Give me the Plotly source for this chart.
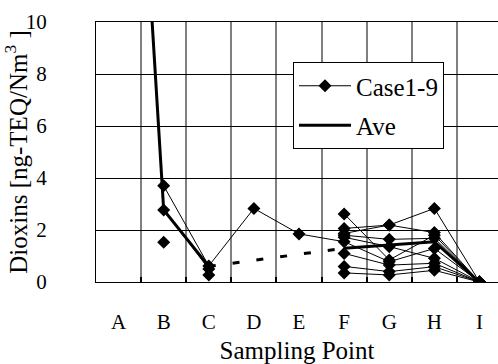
import plotly.graph_objects as go

points = ["A", "B", "C", "D", "E", "F", "G", "H", "I"]

case1 = [None, 3.70, 0.62, 2.83, 1.85, 1.55, 0.78, 1.29, 0.0]
case2 = [None, 2.77, 0.50, None, None, 2.62, 0.85, 1.80, 0.0]
case3 = [None, 1.53, None, None, None, 2.06, 2.19, 2.83, 0.0]
case4 = [None, None, 0.27, None, None, 1.87, 2.19, 1.90, 0.0]
case5 = [None, None, None, None, None, 1.80, 1.64, 1.68, 0.0]
case6 = [None, None, None, None, None, 1.72, 1.36, 0.91, 0.0]
case7 = [None, None, None, None, None, 1.10, 0.65, 0.72, 0.0]
case8 = [None, None, None, None, None, 0.60, 0.40, 0.59, 0.0]
case9 = [None, None, None, None, None, 0.35, 0.27, 0.45, 0.0]
cases = [case1, case2, case3, case4, case5, case6, case7, case8, case9]

ave = [31.0, 2.77, 0.60, None, None, 1.30, 1.42, 1.55, 0.0]

y_ticks = [0, 2, 4, 6, 8, 10]

FONT = "Liberation Serif"
xs = list(range(len(points)))

fig = go.Figure()

for i, c in enumerate(cases):
    fig.add_trace(go.Scatter(
        x=xs, y=c, mode="lines+markers", name="Case1-9",
        legendgroup="case", showlegend=(i == 0),
        line=dict(color="black", width=1),
        marker=dict(symbol="diamond", size=10, color="black"),
        connectgaps=False,
    ))

# dashed bridge over the gap in the average
bridge = [None] * len(ave)
for i in range(len(ave)):
    if ave[i] is not None:
        nxt_missing = i + 1 < len(ave) and ave[i + 1] is None
        prv_missing = i - 1 >= 0 and ave[i - 1] is None
        if nxt_missing or prv_missing:
            bridge[i] = ave[i]
fig.add_trace(go.Scatter(
    x=xs, y=bridge, mode="lines", showlegend=False,
    line=dict(color="black", width=3, dash="7px,17px"),
    connectgaps=True,
))
fig.add_trace(go.Scatter(
    x=xs, y=ave, mode="lines", name="Ave", legendgroup="ave",
    line=dict(color="black", width=3),
    connectgaps=False,
))

fig.update_layout(
    width=498, height=364,
    margin=dict(l=96, r=0, t=22, b=82, autoexpand=False),
    paper_bgcolor="white", plot_bgcolor="white",
    font=dict(family=FONT, color="black", size=21),
    legend=dict(
        x=(293 - 96) / 402, y=1 - (62 - 22) / 260,
        xanchor="left", yanchor="top",
        bgcolor="white", bordercolor="black", borderwidth=1,
        font=dict(family=FONT, size=25, color="black"),
        itemwidth=52,
        tracegroupgap=4,
    ),
)

fig.update_xaxes(
    range=[-0.5, 8.41], automargin=False,
    tickmode="array", tickvals=xs, ticktext=points,
    showgrid=False, zeroline=False,
    ticks="outside", ticklen=21, tickcolor="rgba(0,0,0,0)",
    showline=True, mirror=True, linecolor="black", linewidth=1,
    tickfont=dict(family=FONT, size=21),
    title=dict(text="Sampling Point", font=dict(family=FONT, size=25), standoff=16),
    minor=dict(
        tickmode="array", tickvals=[v + 0.5 for v in xs[:-1]],
        showgrid=True, gridcolor="#7f7f7f", gridwidth=1.5,
        ticks="inside", ticklen=5, tickcolor="black", tickwidth=1.5,
    ),
)

fig.update_yaxes(
    range=[0, 10], automargin=False,
    tickmode="array", tickvals=y_ticks,
    showgrid=True, gridcolor="black", gridwidth=1,
    zeroline=False,
    ticks="outside", ticklen=44, tickcolor="rgba(0,0,0,0)",
    showline=True, mirror=True, linecolor="black", linewidth=1,
    tickfont=dict(family=FONT, size=21),
    title=dict(text="Dioxins [ng-TEQ/Nm<sup>3</sup> ]", font=dict(family=FONT, size=25), standoff=0),
)

fig.write_html("out.html")
